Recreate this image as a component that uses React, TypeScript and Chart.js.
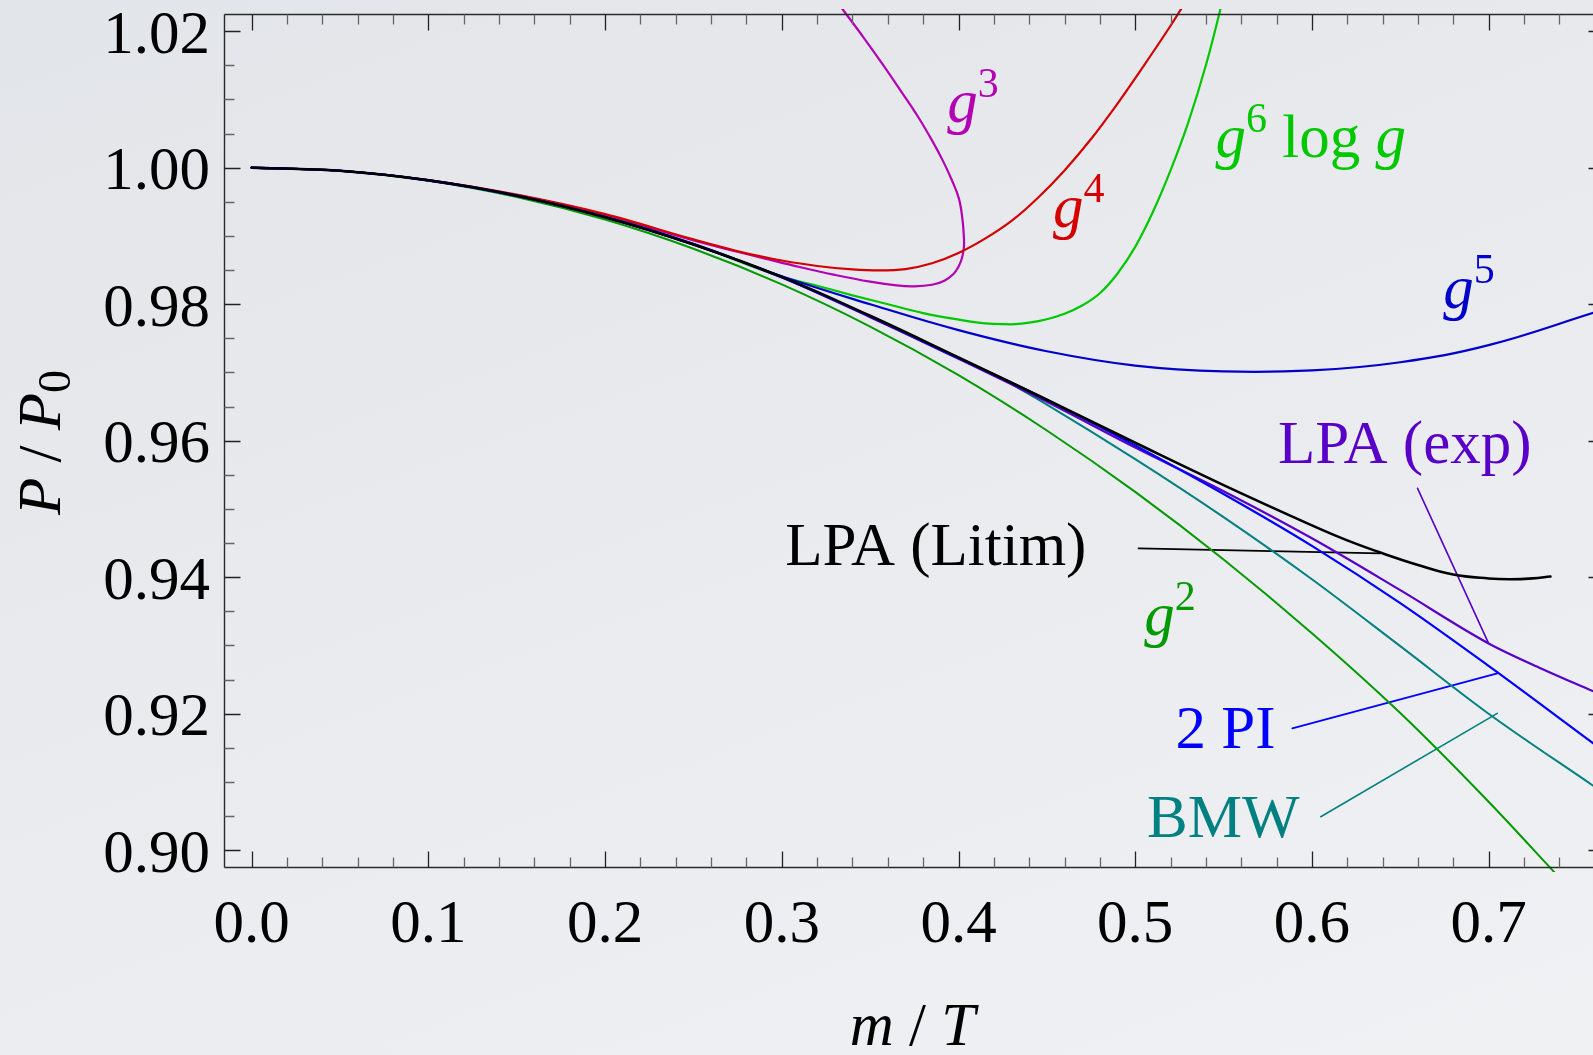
import React, { useEffect, useRef } from 'react';
import { Chart, registerables } from 'chart.js';

Chart.register(...registerables);

const W = 1593;
const H = 1055;
const SERIF = '"Liberation Serif", "Times New Roman", Times, serif';
const FS = 61;

// ---- axes ----
const X_MIN = -0.01568;
const X_MAX = 0.75908;
const Y_MIN = 0.89754;
const Y_MAX = 1.02252;
const X_TICKS = [0.0, 0.1, 0.2, 0.3, 0.4, 0.5, 0.6, 0.7];
const X_TICK_LABELS = ['0.0', '0.1', '0.2', '0.3', '0.4', '0.5', '0.6', '0.7'];
const Y_TICKS = [0.9, 0.92, 0.94, 0.96, 0.98, 1.0, 1.02];
const Y_TICK_LABELS = ['0.90', '0.92', '0.94', '0.96', '0.98', '1.00', '1.02'];
const X_MINOR_STEP = 0.02;
const Y_MINOR_STEP = 0.005;

// ---- series ----
const LITIM_X = [0, 0.05, 0.1, 0.15, 0.2, 0.25, 0.3, 0.35, 0.4, 0.45, 0.5, 0.55, 0.6, 0.62, 0.64, 0.66, 0.68, 0.7, 0.712, 0.725, 0.735];
const LITIM_Y = [1.0, 0.99955, 0.99815, 0.9959, 0.99275, 0.98875, 0.984, 0.9783, 0.9722, 0.966, 0.9597, 0.9535, 0.9476, 0.9454, 0.9435, 0.9418, 0.9404, 0.93982, 0.9397, 0.93983, 0.9401];

const PI2_X = [0, 0.05, 0.1, 0.15, 0.2, 0.25, 0.3, 0.35, 0.4, 0.45, 0.5, 0.55, 0.6, 0.65, 0.7, 0.76];
const PI2_Y = [1.0, 0.99955, 0.99815, 0.9959, 0.99275, 0.98875, 0.98395, 0.9782, 0.9721, 0.966, 0.9593, 0.9522, 0.9446, 0.9362, 0.927, 0.9155];

const EXP_X = [0, 0.05, 0.1, 0.15, 0.2, 0.25, 0.3, 0.35, 0.4, 0.45, 0.5, 0.55, 0.6, 0.65, 0.7, 0.73, 0.76];
const EXP_Y = [1.0, 0.99955, 0.99815, 0.9959, 0.99275, 0.98875, 0.9839, 0.9781, 0.972, 0.9657, 0.959, 0.9526, 0.9457, 0.9381, 0.9303, 0.9266, 0.9232];

const BMW_X = [0.43, 0.45, 0.5, 0.55, 0.6, 0.65, 0.7, 0.76];
const BMW_Y = [0.9683, 0.9653, 0.9573, 0.9488, 0.9397, 0.9299, 0.92, 0.9093];

const G2_X = [0, 0.05, 0.1, 0.15, 0.2, 0.25, 0.3, 0.35, 0.4, 0.45, 0.5, 0.55, 0.6, 0.65, 0.7, 0.74];
const G2_Y = [1.0, 0.99952, 0.9981, 0.99572, 0.9924, 0.98812, 0.9829, 0.97672, 0.9696, 0.9615, 0.9525, 0.9426, 0.9318, 0.9201, 0.9071, 0.896];

// g^3 (it turns back on itself)
const G3_X = [0, 0.05, 0.1, 0.15, 0.2, 0.25, 0.27, 0.29, 0.31, 0.33, 0.35, 0.365, 0.375, 0.385, 0.392, 0.397, 0.4, 0.402, 0.403, 0.4031, 0.4022, 0.4002, 0.3962, 0.3912, 0.385, 0.377, 0.368, 0.3575, 0.3465, 0.335, 0.33];
const G3_Y = [1.0, 0.99955, 0.99818, 0.99598, 0.99295, 0.98935, 0.988, 0.98672, 0.98545, 0.9843, 0.9833, 0.98275, 0.98262, 0.98285, 0.98345, 0.9844, 0.9855, 0.9868, 0.9882, 0.9895, 0.9925, 0.9955, 0.9982, 1.001, 1.004, 1.0075, 1.011, 1.015, 1.019, 1.023, 1.0247];

const G4_X = [0, 0.05, 0.1, 0.15, 0.2, 0.25, 0.28, 0.3, 0.32, 0.34, 0.355, 0.37, 0.385, 0.4, 0.415, 0.43, 0.445, 0.46, 0.475, 0.49, 0.505, 0.52, 0.535];
const G4_Y = [1.0, 0.99955, 0.9982, 0.99605, 0.9932, 0.9895, 0.98745, 0.9864, 0.9856, 0.9851, 0.98495, 0.98515, 0.986, 0.9875, 0.9896, 0.9922, 0.9956, 0.9996, 1.0042, 1.0094, 1.015, 1.0208, 1.027];

const G6_X = [0, 0.05, 0.1, 0.15, 0.2, 0.25, 0.3, 0.32, 0.34, 0.36, 0.38, 0.395, 0.41, 0.42, 0.43, 0.44, 0.45, 0.46, 0.47, 0.48, 0.49, 0.5, 0.51, 0.52, 0.53, 0.54, 0.548, 0.553];
const G6_Y = [1.0, 0.99955, 0.99815, 0.9959, 0.9928, 0.9888, 0.984, 0.9827, 0.9813, 0.98, 0.9787, 0.97795, 0.97735, 0.97712, 0.97705, 0.9773, 0.9778, 0.9786, 0.9798, 0.9816, 0.9845, 0.9884, 0.9935, 0.9996, 1.0066, 1.015, 1.023, 1.0285];

const G5_X = [0, 0.05, 0.1, 0.15, 0.2, 0.25, 0.3, 0.35, 0.4, 0.45, 0.5, 0.55, 0.6, 0.65, 0.7, 0.76];
const G5_Y = [1.0, 0.99955, 0.99815, 0.9959, 0.9928, 0.98885, 0.9841, 0.98, 0.9762, 0.9731, 0.971, 0.97015, 0.9703, 0.9715, 0.974, 0.9788];

// ---- leader lines (label pointers) ----
const LEAD_EXP_X = [0.6598, 0.7];
const LEAD_EXP_Y = [0.95302, 0.93031];
const LEAD_LITIM_X = [0.5019, 0.6388];
const LEAD_LITIM_Y = [0.94423, 0.9435];
const LEAD_PI2_X = [0.5889, 0.7049];
const LEAD_PI2_Y = [0.91786, 0.92592];
const LEAD_BMW_X = [0.605, 0.7049];
const LEAD_BMW_Y = [0.90491, 0.92005];

// ---- labels (left edge, baseline, in data units) ----
const LABEL_X = [0.3937, 0.4535, 0.5454, 0.6743, 0.5808, 0.302, 0.5051, 0.5228, 0.5067];
const LABEL_Y = [1.00674, 0.99136, 1.00161, 0.9794, 0.95669, 0.94179, 0.93153, 0.91493, 0.90198];

const C_LITIM = '#000000';
const C_PI2 = '#0000ff';
const C_EXP = '#5800c8';
const C_BMW = '#008080';
const C_G2 = '#009a00';
const C_G3 = '#b400b4';
const C_G4 = '#d40000';
const C_G6 = '#00c800';
const C_G5 = '#0000c8';

type Seg = { t: string; it?: boolean; s?: number; dy?: number; dx?: number };

const LABEL_SEGS: Seg[][] = [
  [{ t: 'g', it: true }, { t: '3', s: 42, dy: -25, dx: 0 }],
  [{ t: 'g', it: true }, { t: '4', s: 42, dy: -25, dx: 0 }],
  [{ t: 'g', it: true }, { t: '6', s: 42, dy: -25, dx: 0 }, { t: ' log ' }, { t: 'g', it: true }],
  [{ t: 'g', it: true }, { t: '5', s: 42, dy: -25, dx: 0 }],
  [{ t: 'LPA (exp)' }],
  [{ t: 'LPA (Litim)' }],
  [{ t: 'g', it: true }, { t: '2', s: 42, dy: -25, dx: 0 }],
  [{ t: '2 PI' }],
  [{ t: 'BMW' }],
];
const LABEL_COLORS = [C_G3, C_G4, C_G6, C_G5, C_EXP, C_LITIM, C_G2, C_PI2, C_BMW];

const pts = (xs: number[], ys: number[]) => xs.map((x, i) => ({ x, y: ys[i] }));

function curve(label: string, xs: number[], ys: number[], color: string, width: number, mode: 'mono' | 'bez' | 'straight' = 'mono') {
  return {
    label,
    data: pts(xs, ys),
    borderColor: color,
    backgroundColor: color,
    borderWidth: width,
    pointRadius: 0,
    pointHoverRadius: 0,
    showLine: true,
    fill: false,
    tension: mode === 'bez' ? 0.4 : 0,
    cubicInterpolationMode: mode === 'mono' ? 'monotone' : 'default',
    borderCapStyle: 'round',
    borderJoinStyle: 'round',
    clip: { left: 0, top: 5, right: 0, bottom: 5 },
  };
}

function drawRich(ctx: CanvasRenderingContext2D, segs: Seg[], x: number, y: number) {
  let cx = x;
  for (const sg of segs) {
    const size = sg.s ?? FS;
    ctx.font = `${sg.it ? 'italic ' : ''}${size}px ${SERIF}`;
    cx += sg.dx ?? 0;
    ctx.fillText(sg.t, cx, y + (sg.dy ?? 0));
    cx += ctx.measureText(sg.t).width;
  }
  return cx - x;
}

function measureRich(ctx: CanvasRenderingContext2D, segs: Seg[]) {
  let w = 0;
  for (const sg of segs) {
    const size = sg.s ?? FS;
    ctx.font = `${sg.it ? 'italic ' : ''}${size}px ${SERIF}`;
    w += (sg.dx ?? 0) + ctx.measureText(sg.t).width;
  }
  return w;
}

const framePlugin = {
  id: 'frameAxes',
  afterDatasetsDraw(chart: any) {
    const { ctx, chartArea } = chart;
    const xs = chart.scales.x;
    const ys = chart.scales.y;
    const L = chartArea.left + 0.5;
    const T = chartArea.top + 0.5;
    const B = chartArea.bottom + 0.5;
    const R = chartArea.right + 11.5;
    ctx.save();

    // frame
    ctx.strokeStyle = '#2a2a2a';
    ctx.lineWidth = 1.4;
    ctx.beginPath();
    ctx.moveTo(L, T);
    ctx.lineTo(R, T);
    ctx.moveTo(L, B);
    ctx.lineTo(R, B);
    ctx.moveTo(L, T);
    ctx.lineTo(L, B);
    ctx.moveTo(R, T);
    ctx.lineTo(R, B);
    ctx.stroke();

    const MAJ = 16;
    const MIN = 10;
    ctx.lineWidth = 1.3;
    // x ticks
    for (let k = 0; k <= 38; k++) {
      const v = k * X_MINOR_STEP;
      if (v > X_MAX) break;
      const major = k % 5 === 0;
      const px = Math.round(xs.getPixelForValue(v)) + 0.5;
      const len = major ? MAJ : MIN;
      ctx.strokeStyle = major ? '#222' : '#666';
      ctx.beginPath();
      ctx.moveTo(px, B);
      ctx.lineTo(px, B - len);
      ctx.moveTo(px, T);
      ctx.lineTo(px, T + len);
      ctx.stroke();
    }
    // y ticks
    for (let k = 0; k <= 24; k++) {
      const v = 0.9 + k * Y_MINOR_STEP;
      const major = k % 4 === 0;
      const py = Math.round(ys.getPixelForValue(v)) + 0.5;
      const len = major ? MAJ : MIN;
      ctx.strokeStyle = major ? '#222' : '#666';
      ctx.beginPath();
      ctx.moveTo(L, py);
      ctx.lineTo(L + len, py);
      ctx.moveTo(R, py);
      ctx.lineTo(R - len, py);
      ctx.stroke();
    }

    // tick labels
    ctx.fillStyle = '#000';
    ctx.font = `${FS}px ${SERIF}`;
    ctx.textBaseline = 'alphabetic';
    ctx.textAlign = 'right';
    Y_TICKS.forEach((v, i) => {
      ctx.fillText(Y_TICK_LABELS[i], chartArea.left - 14, ys.getPixelForValue(v) + 21.5);
    });
    ctx.textAlign = 'center';
    X_TICKS.forEach((v, i) => {
      ctx.fillText(X_TICK_LABELS[i], xs.getPixelForValue(v), chartArea.bottom + 75);
    });

    // axis titles
    ctx.textAlign = 'left';
    const xt: Seg[] = [{ t: 'm', it: true }, { t: ' / ' }, { t: 'T', it: true }];
    const xw = measureRich(ctx, xt);
    drawRich(ctx, xt, (chartArea.left + chartArea.right) / 2 + 4 - xw / 2, chartArea.bottom + 178);

    const yt: Seg[] = [{ t: 'P', it: true }, { t: ' / ' }, { t: 'P', it: true }, { t: '0', s: 46, dy: 10 }];
    const yw = measureRich(ctx, yt);
    ctx.save();
    ctx.translate(60, (chartArea.top + chartArea.bottom) / 2 + 2);
    ctx.rotate(-Math.PI / 2);
    drawRich(ctx, yt, -yw / 2, 0);
    ctx.restore();

    // curve labels
    LABEL_SEGS.forEach((segs, i) => {
      ctx.fillStyle = LABEL_COLORS[i];
      drawRich(ctx, segs, xs.getPixelForValue(LABEL_X[i]), ys.getPixelForValue(LABEL_Y[i]));
    });

    ctx.restore();
  },
};

export default function App() {
  const ref = useRef<HTMLCanvasElement>(null);
  useEffect(() => {
    if (!ref.current) return;
    const datasets: any[] = [
      curve('LPA (Litim)', LITIM_X, LITIM_Y, C_LITIM, 2.6, 'bez'),
      curve('2 PI', PI2_X, PI2_Y, C_PI2, 2.2),
      curve('LPA (exp)', EXP_X, EXP_Y, C_EXP, 2.2),
      curve('g5', G5_X, G5_Y, C_G5, 2.2, 'bez'),
      curve('g6 log g', G6_X, G6_Y, C_G6, 2.2),
      curve('g4', G4_X, G4_Y, C_G4, 2.2),
      curve('g3', G3_X, G3_Y, C_G3, 2.2, 'bez'),
      curve('BMW', BMW_X, BMW_Y, C_BMW, 2.0),
      curve('g2', G2_X, G2_Y, C_G2, 2.0),
      curve('lead exp', LEAD_EXP_X, LEAD_EXP_Y, C_EXP, 1.6, 'straight'),
      curve('lead litim', LEAD_LITIM_X, LEAD_LITIM_Y, C_LITIM, 1.8, 'straight'),
      curve('lead 2pi', LEAD_PI2_X, LEAD_PI2_Y, C_PI2, 1.8, 'straight'),
      curve('lead bmw', LEAD_BMW_X, LEAD_BMW_Y, C_BMW, 1.6, 'straight'),
    ];
    const chart = new Chart(ref.current, {
      type: 'scatter',
      data: { datasets },
      options: {
        responsive: false,
        animation: false,
        devicePixelRatio: 1,
        events: [],
        layout: { padding: { left: 224, top: 14, right: 0, bottom: 188 } },
        plugins: { legend: { display: false }, tooltip: { enabled: false } },
        scales: {
          x: { type: 'linear', min: X_MIN, max: X_MAX, display: false },
          y: { type: 'linear', min: Y_MIN, max: Y_MAX, display: false },
        },
      },
      plugins: [framePlugin],
    } as any);
    return () => chart.destroy();
  }, []);

  return (
    <div
      style={{
        position: 'fixed',
        left: 0,
        top: 0,
        width: W,
        height: H,
        background: 'linear-gradient(160deg, #e2e5e9 0%, #e9ebee 50%, #f0f1f3 100%)',
        overflow: 'hidden',
      }}
    >
      <canvas ref={ref} width={W} height={H} style={{ display: 'block', width: W, height: H }} />
    </div>
  );
}
